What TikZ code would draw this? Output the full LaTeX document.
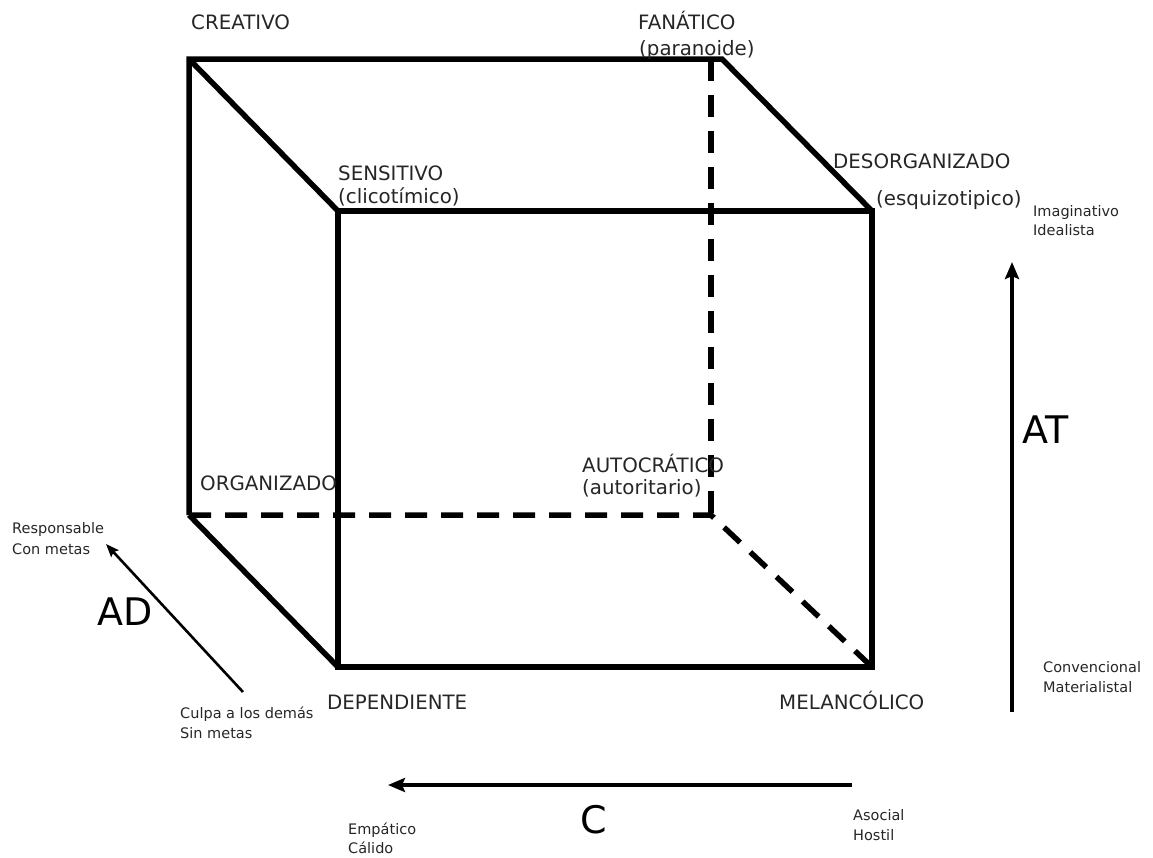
\documentclass[tikz,border=0pt]{standalone}
\usepackage{fontspec}
\setmainfont{DejaVu Sans}
\usetikzlibrary{arrows.meta}
\begin{document}
\begin{tikzpicture}[x=1pt,y=-1pt,
  edge/.style={line width=5.5pt, line cap=butt, line join=miter},
  hidden/.style={line width=5.5pt, dash pattern=on 22pt off 14pt},
  lbl/.style={anchor=base west, inner sep=0pt, font=\fontsize{19.8}{23}\selectfont, text=black!85},
  small/.style={anchor=base west, inner sep=0pt, font=\fontsize{14.5}{18}\selectfont, text=black!85},
  big/.style={anchor=base west, inner sep=0pt, font=\fontsize{38}{44}\selectfont},
  axis/.style={line width=4.5pt, -{Stealth[length=17pt,width=14pt,inset=3pt]}},
  thinaxis/.style={line width=2.6pt, -{Stealth[length=13pt,width=10pt,inset=2pt]}},
]
\useasboundingbox (0,0) rectangle (1153,857);

% cube corners
\coordinate (btl) at (189,59);
\coordinate (btr) at (722,59);
\coordinate (bvt) at (711,59);
\coordinate (bbl) at (189,515);
\coordinate (bbr) at (711,515);
\coordinate (ftl) at (338,211);
\coordinate (ftr) at (872,211);
\coordinate (fbl) at (338,667);
\coordinate (fbr) at (872,667);

% hidden edges
\draw[hidden] (bvt) -- (bbr);
\draw[hidden] (bbl) -- (bbr) -- (fbr);

% visible edges
\draw[edge] (ftl) rectangle (fbr);
\draw[edge] (bbl) -- (btl) -- (btr) -- (ftr);
\draw[edge] (btl) -- (ftl);
\draw[edge] (bbl) -- (fbl);

% corner labels
\node[lbl] (creativo) at (191,29) {CREATIVO};
\node[lbl] (fanatico) at (638,29) {FANÁTICO};
\node[lbl] (paranoide) at (639,55) {(paranoide)};
\node[lbl] (sensitivo) at (338,180) {SENSITIVO};
\node[lbl] (clicotimico) at (338,203) {(clicotímico)};
\node[lbl] (desorg) at (833,168) {DESORGANIZADO};
\node[lbl] (esquizo) at (876,205) {(esquizotipico)};
\node[lbl] (organizado) at (200,490) {ORGANIZADO};
\node[lbl] (autocratico) at (582,472) {AUTOCRÁTICO};
\node[lbl] (autoritario) at (582,494) {(autoritario)};
\node[lbl] (dependiente) at (327,709) {DEPENDIENTE};
\node[lbl] (melancolico) at (779,709) {MELANCÓLICO};

% AT axis
\coordinate (atbot) at (1012,712);
\coordinate (attop) at (1012,262);
\draw[axis] (atbot) -- (attop);
\node[big] (at) at (1022,443) {AT};
\node[small] (imag) at (1033,216) {Imaginativo};
\node[small] (ideal) at (1033,235) {Idealista};
\node[small] (conv) at (1043,672) {Convencional};
\node[small] (mater) at (1043,692) {Materialistal};

% C axis
\coordinate (cright) at (852,785);
\coordinate (cleft) at (388,785);
\draw[axis] (cright) -- (cleft);
\node[big] (c) at (580,833) {C};
\node[small] (empatico) at (348,834) {Empático};
\node[small] (calido) at (348,853) {Cálido};
\node[small] (asocial) at (853,820) {Asocial};
\node[small] (hostil) at (853,840) {Hostil};

% AD axis
\coordinate (adlow) at (243,692);
\coordinate (adhigh) at (106,544);
\draw[thinaxis] (adlow) -- (adhigh);
\node[big] (ad) at (97,625) {AD};
\node[small] (resp) at (12,533) {Responsable};
\node[small] (conmetas) at (12,554) {Con metas};
\node[small] (culpa) at (180,718) {Culpa a los demás};
\node[small] (sinmetas) at (180,738) {Sin metas};
\end{tikzpicture}
\end{document}
